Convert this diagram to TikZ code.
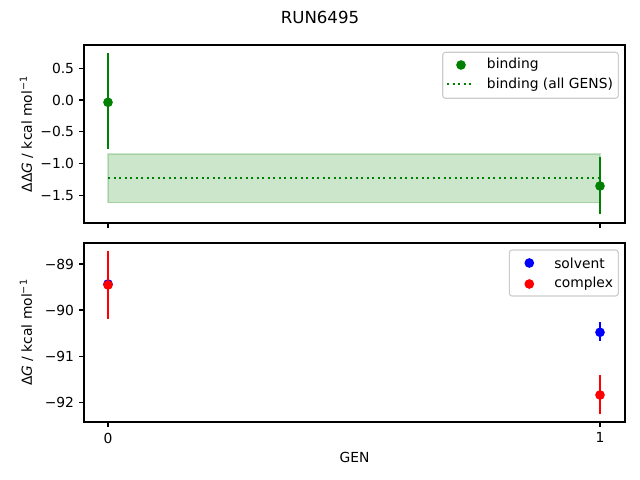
\documentclass[tikz,border=0pt]{standalone}
\usepackage{fontspec}
\setmainfont{DejaVu Sans}
\usetikzlibrary{positioning}
\definecolor{mplgreen}{RGB}{0,128,0}
\definecolor{mplblue}{RGB}{0,0,255}
\definecolor{mplred}{RGB}{255,0,0}
\definecolor{legendedge}{RGB}{204,204,204}
\tikzstyle{axframe} = [line width=0.8pt, black]
\tikzstyle{axtick} = [line width=0.8pt, black]
\tikzstyle{ticklabel} = [font=\fontsize{10}{12}\selectfont, inner sep=0pt]
\tikzstyle{errbar} = [line width=1.5pt]
\tikzstyle{dot} = [circle, inner sep=0pt, minimum size=7pt]
\tikzstyle{legendbox} = [draw=legendedge, fill=white, fill opacity=0.8, rounded corners=2pt, line width=0.8pt]
\tikzstyle{legendtext} = [font=\fontsize{10}{12}\selectfont, inner sep=0pt, anchor=west]

\begin{document}
\begin{tikzpicture}[x=0.01in, y=-0.01in]
\useasboundingbox (0,0) rectangle (640,480);
% Title
\node (title) [font=\fontsize{12}{14}\selectfont] at (320,17) {RUN6495};

% Upper panel: binding
\path[fill=mplgreen, draw=mplgreen, opacity=0.2, line width=1pt] (108,154) rectangle (600,202.7);
\draw[mplgreen, line width=1.5pt, dash pattern=on 1.5pt off 2.475pt] (108,177.7) -- (600,177.7);
\draw[errbar, mplgreen] (108,53.3) -- (108,149.3);
\node (bind0) [dot, fill=mplgreen] at (108,102.3) {};
\draw[errbar, mplgreen] (600,156.7) -- (600,214.3);
\node (bind1) [dot, fill=mplgreen] at (600,186) {};
\draw[axframe] (84,45) rectangle (625,223);
\foreach \y/\lab [count=\i] in {68.25/0.5, 100/0.0, 131.75/−0.5, 163.5/−1.0, 195.25/−1.5}
{
  \draw[axtick] (84,\y) -- (79.1,\y);
  \node (ytop\i) [ticklabel, anchor=east] at (74.3,\y) {\lab};
}
\foreach \x in {108,600}
  \draw[axtick] (\x,223) -- (\x,227.9);
\node (ylabtop) [rotate=90, font=\fontsize{10}{12}\selectfont] at (26.5,134) {ΔΔ\textit{G} / kcal mol\textsuperscript{−1}};

% Upper legend
\draw[legendbox] (442.7,52.3) rectangle (618.3,98.3);
\node (legbind) [dot, fill=mplgreen] at (461,65) {};
\node (legbindtxt) [legendtext] at (486.7,65) {binding};
\draw[mplgreen, line width=1.5pt, dash pattern=on 1.5pt off 2.475pt] (447,84.3) -- (474,84.3);
\node (legalltxt) [legendtext] at (486.7,84.3) {binding (all GENS)};

% Lower panel: solvent and complex
\draw[errbar, mplblue] (108,262) -- (108,306);
\node (solv0) [dot, fill=mplblue] at (108,284) {};
\draw[errbar, mplblue] (600,322.3) -- (600,340.7);
\node (solv1) [dot, fill=mplblue] at (600,332.3) {};
\draw[errbar, mplred] (108,251) -- (108,319);
\node (comp0) [dot, fill=mplred] at (108,285) {};
\draw[errbar, mplred] (600,375) -- (600,414);
\node (comp1) [dot, fill=mplred] at (600,395) {};
\draw[axframe] (84,243) rectangle (625,422);
\foreach \y/\lab [count=\i] in {264/−89, 310/−90, 356.3/−91, 402.5/−92}
{
  \draw[axtick] (84,\y) -- (79.1,\y);
  \node (ybot\i) [ticklabel, anchor=east] at (74.3,\y) {\lab};
}
\foreach \x/\lab [count=\i] in {108/0, 600/1}
{
  \draw[axtick] (\x,422) -- (\x,426.9);
  \node (xbot\i) [ticklabel, anchor=north] at (\x,432.5) {\lab};
}
\node (ylabbot) [rotate=90, font=\fontsize{10}{12}\selectfont] at (26.5,332.5) {Δ\textit{G} / kcal mol\textsuperscript{−1}};
\node (xlab) [font=\fontsize{10}{12}\selectfont] at (354.5,457) {GEN};

% Lower legend
\draw[legendbox] (509.3,250) rectangle (618.3,296);
\node (legsolv) [dot, fill=mplblue] at (529.3,263) {};
\node (legsolvtxt) [legendtext] at (554,263) {solvent};
\node (legcomp) [dot, fill=mplred] at (529.3,284) {};
\node (legcomptxt) [legendtext] at (554,284) {complex};
\end{tikzpicture}
\end{document}
